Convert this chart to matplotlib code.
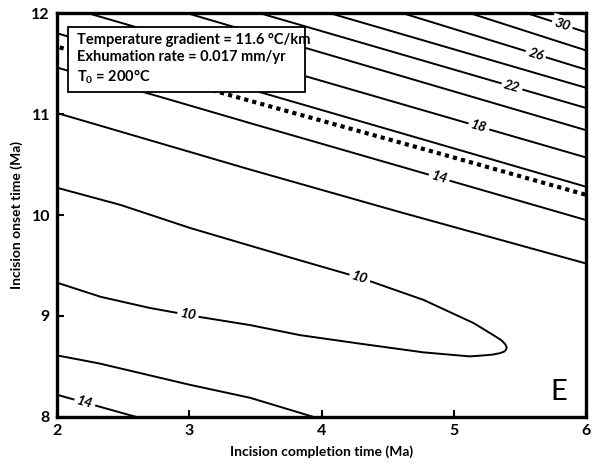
import numpy as np
import matplotlib.pyplot as plt
from matplotlib.patches import Rectangle

plt.rcParams['font.family'] = ['Lato', 'DejaVu Sans']
plt.rcParams['mathtext.default'] = 'regular'

# contour lines traced as (completion time, onset time) pairs
c30_x = [5.55, 6.0]
c30_y = [12.0, 11.81]
c28_x = [5.12, 6.0]
c28_y = [12.0, 11.63]
c26_x = [4.61, 6.0]
c26_y = [12.0, 11.44]
c24_x = [4.06, 6.0]
c24_y = [12.0, 11.26]
c22_x = [3.53, 6.0]
c22_y = [12.0, 11.06]
c20_x = [2.98, 6.0]
c20_y = [12.0, 10.84]
c18_x = [2.23, 6.0]
c18_y = [12.0, 10.57]
c16_x = [2.0, 6.0]
c16_y = [11.80, 10.28]
c14_x = [2.0, 2.78, 3.46, 4.89, 6.0]
c14_y = [11.46, 11.17, 10.91, 10.37, 9.95]
c12_x = [2.0, 3.46, 4.59, 6.0]
c12_y = [11.01, 10.45, 10.03, 9.52]

# closed 10 contour, upper and lower branch
c10_up_x = [2.0, 2.48, 3.01, 3.84, 4.29, 4.77, 5.15, 5.30, 5.36, 5.39, 5.40]
c10_up_y = [10.27, 10.10, 9.87, 9.55, 9.38, 9.16, 8.93, 8.81, 8.76, 8.72, 8.69]
c10_lo_x = [5.395, 5.38, 5.35, 5.29, 5.20, 5.12, 4.77, 4.27, 3.84, 3.46, 3.08,
            2.70, 2.33, 2.0]
c10_lo_y = [8.665, 8.647, 8.632, 8.617, 8.607, 8.60, 8.64, 8.73, 8.81, 8.91,
            8.99, 9.08, 9.19, 9.33]

c12b_x = [2.0, 2.32, 3.0, 3.46, 3.84, 3.94]
c12b_y = [8.61, 8.53, 8.32, 8.19, 8.04, 8.00]
c14b_x = [2.0, 2.60]
c14b_y = [8.22, 8.00]

# observed-age line
obs_x = [2.02, 3.38, 4.89, 6.0]
obs_y = [11.66, 11.16, 10.61, 10.20]

lines = [(c30_x, c30_y), (c28_x, c28_y), (c26_x, c26_y), (c24_x, c24_y),
         (c22_x, c22_y), (c20_x, c20_y), (c18_x, c18_y), (c16_x, c16_y),
         (c14_x, c14_y), (c12_x, c12_y), (c12b_x, c12b_y), (c14b_x, c14b_y),
         (c10_up_x + c10_lo_x, c10_up_y + c10_lo_y)]

# inline labels: (x, y, label text, label x position)
labelled = [
    (c30_x, c30_y, '30', 5.82),
    (c26_x, c26_y, '26', 5.62),
    (c22_x, c22_y, '22', 5.44),
    (c18_x, c18_y, '18', 5.19),
    (c14_x, c14_y, '14', 4.89),
    (c10_up_x, c10_up_y, '10', 4.29),
    (c10_lo_x[::-1], c10_lo_y[::-1], '10', 2.99),
    (c14b_x, c14b_y, '14', 2.21),
]

fig = plt.figure(figsize=(5.97, 4.66), dpi=100)
ax = fig.add_axes([0.0955, 0.1052, 0.8861, 0.8668])
ax.set_xlim(2, 6)
ax.set_ylim(8, 12)

for x, y in lines:
    ax.plot(x, y, color='black', lw=1.4, solid_capstyle='butt')

ax.plot(obs_x, obs_y, color='black', lw=3.0, linestyle=(0, (1.0, 1.0)),
        dash_capstyle='butt')

# white gap behind each label, rotated along the line
for x, y, txt, xl in labelled:
    yl = np.interp(xl, x, y)
    p1 = ax.transData.transform((xl - 0.05, np.interp(xl - 0.05, x, y)))
    p2 = ax.transData.transform((xl + 0.05, np.interp(xl + 0.05, x, y)))
    ang = np.degrees(np.arctan2(p2[1] - p1[1], p2[0] - p1[0]))
    ax.text(xl, yl, txt, fontsize=10, fontstyle='italic', fontweight='bold',
            ha='center', va='center', rotation=ang, rotation_mode='anchor',
            bbox=dict(facecolor='white', edgecolor='none', pad=2), zorder=5)

ax.add_patch(Rectangle((0.021, 0.804), 0.448, 0.161, transform=ax.transAxes,
                       facecolor='white', edgecolor='black', lw=1.3, zorder=6))
ax.text(0.038, 0.952,
        'Temperature gradient = 11.6 \u00b0C/km\nExhumation rate = 0.017 mm/yr\nT$_0$ = 200\u00b0C',
        transform=ax.transAxes, fontsize=10.5, fontweight='bold', va='top',
        ha='left', linespacing=1.3, zorder=7)

ax.text(0.965, 0.03, 'E', transform=ax.transAxes, fontsize=21,
        ha='right', va='bottom')

ax.set_xticks([2, 3, 4, 5, 6])
ax.set_yticks([8, 9, 10, 11, 12])
ax.tick_params(direction='in', length=5, width=1.5, labelsize=11.5, pad=5)
for lab in ax.get_xticklabels() + ax.get_yticklabels():
    lab.set_fontweight('bold')
for s in ax.spines.values():
    s.set_linewidth(2.4)

ax.set_xlabel('Incision completion time (Ma)', fontsize=10, fontweight='bold', labelpad=5)
ax.set_ylabel('Incision onset time (Ma)', fontsize=10, fontweight='bold', labelpad=6)

fig.savefig('out.png', dpi=100)
